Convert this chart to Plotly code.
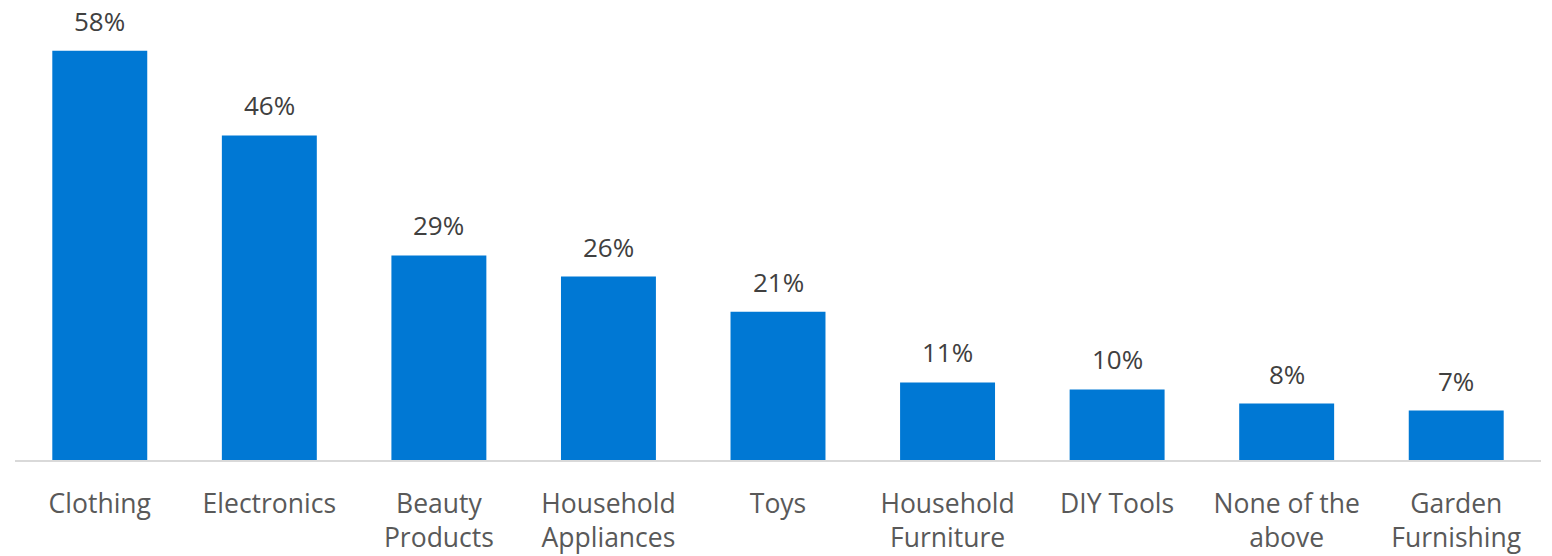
import plotly.graph_objects as go

categories = ["Clothing", "Electronics", "Beauty<br>Products", "Household<br>Appliances", "Toys",
              "Household<br>Furniture", "DIY Tools", "None of the<br>above", "Garden<br>Furnishing"]
values = [58, 46, 29, 26, 21, 11, 10, 8, 7]
labels = [f"{v}%" for v in values]

FONT = "Open Sans"

fig = go.Figure()
fig.add_trace(go.Bar(
    x=categories, y=values,
    marker=dict(color="#0078d4", line=dict(width=0)),
    hoverinfo="skip",
))

for c, v, t in zip(categories, values, labels):
    fig.add_annotation(
        x=c, y=v, text=t, showarrow=False, yanchor="bottom", yshift=10,
        font=dict(family=FONT, size=26, color="#404040"),
    )

fig.update_layout(
    width=1552, height=556,
    margin=dict(l=15, r=11, t=0, b=96),
    paper_bgcolor="white", plot_bgcolor="white",
    bargap=0.44,
    showlegend=False,
    font=dict(family=FONT),
)
fig.update_xaxes(
    showline=True, linecolor="#d9d9d9", linewidth=2,
    showgrid=False, ticks="", ticklabelstandoff=19,
    tickfont=dict(family=FONT, size=26.5, color="#595959"),
)
fig.update_yaxes(
    range=[0, 65.2], visible=False, showgrid=False, zeroline=False,
)

fig.write_html("out.html")
